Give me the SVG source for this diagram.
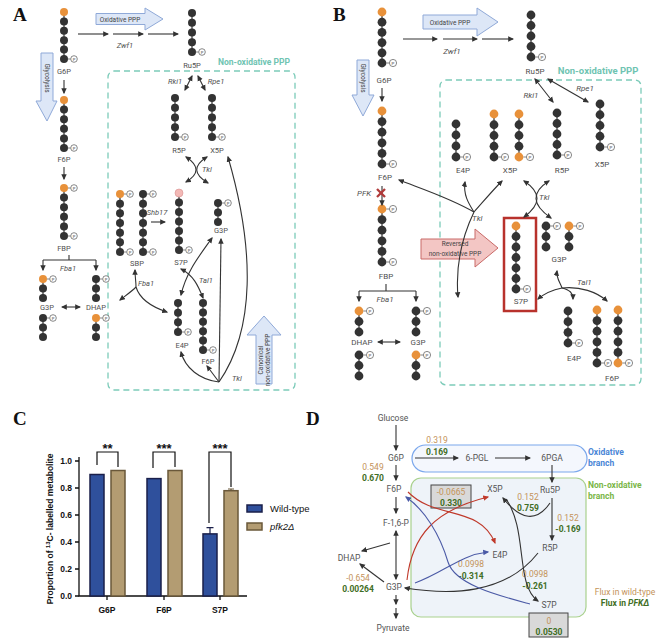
<svg xmlns="http://www.w3.org/2000/svg" width="669" height="642" viewBox="0 0 669 642">
<defs>
<style>
.t{font-family:Roboto,'Liberation Sans',sans-serif;fill:#505050;text-anchor:middle}
.a{font-size:7.5px}
.b{font-size:8px}
.i{font-style:italic}
.s{text-anchor:start}
.ln{fill:none;stroke:#333;stroke-width:1.1}
.ch{stroke:#444;stroke-width:1.3}
.pl{font-family:'Liberation Serif',serif;font-weight:bold;font-size:19px;fill:#111}
.bx{fill:none;stroke:#7ccbb9;stroke-width:1.3;stroke-dasharray:6 4}
.teal{font-family:Roboto,'Liberation Sans',sans-serif;font-weight:bold;fill:#6fc4b2;text-anchor:middle}
.ba{fill:#dde7f7;stroke:#8fa9d8;stroke-width:1}
.bt{font-family:Roboto,'Liberation Sans',sans-serif;font-size:6.5px;fill:#444;text-anchor:middle}
.d{font-family:Roboto,'Liberation Sans',sans-serif;font-size:8.5px;fill:#555;text-anchor:middle}
.tan{fill:#c4935a}
.grn{fill:#3f6e25;font-weight:bold}
.cx{font-family:'Liberation Sans',Arial,sans-serif;font-weight:bold;font-size:8.5px;fill:#111}
.ax{fill:none;stroke:#111;stroke-width:1.3}
.wt{fill:#2f509c;stroke:#1a1f4a;stroke-width:1.5}
.pf{fill:#b39c72;stroke:#6a583a;stroke-width:1.5}
</style>
<marker id="m" viewBox="0 0 10 10" refX="8" refY="5" markerWidth="6" markerHeight="6" markerUnits="userSpaceOnUse" orient="auto-start-reverse"><path d="M0,0.5L10,5L0,9.5z" fill="#333"/></marker>
<marker id="mr" viewBox="0 0 10 10" refX="8" refY="5" markerWidth="6" markerHeight="6" markerUnits="userSpaceOnUse" orient="auto-start-reverse"><path d="M0,0.5L10,5L0,9.5z" fill="#c0392b"/></marker>
<marker id="mb" viewBox="0 0 10 10" refX="8" refY="5" markerWidth="6" markerHeight="6" markerUnits="userSpaceOnUse" orient="auto-start-reverse"><path d="M0,0.5L10,5L0,9.5z" fill="#4b5aa6"/></marker>
<circle id="k" r="4" fill="#333"/>
<circle id="o" r="4" fill="#e8913a"/>
<circle id="K" r="4.4" fill="#333"/>
<circle id="O" r="4.4" fill="#e8913a"/>
<g id="p"><line x1="4" x2="6.7" stroke="#666" stroke-width="0.8"/><circle cx="10" r="3.3" fill="#fff" stroke="#555" stroke-width="0.7"/><text x="10" y="1.5" font-size="4" text-anchor="middle" font-family="'Liberation Sans',sans-serif" fill="#333">P</text></g>
<g id="P"><line x1="4.4" x2="7.4" stroke="#666" stroke-width="0.8"/><circle cx="11" r="3.6" fill="#fff" stroke="#555" stroke-width="0.7"/><text x="11" y="1.6" font-size="4.3" text-anchor="middle" font-family="'Liberation Sans',sans-serif" fill="#333">P</text></g>
</defs>
<rect width="669" height="642" fill="#fff"/>

<!-- ================= PANEL A ================= -->
<text class="pl" x="13" y="21">A</text>
<rect id="a-box" class="bx" x="108" y="71" width="187" height="319" rx="6"/>
<text id="a-nonox" class="teal" x="254" y="65" font-size="8.5">Non-oxidative PPP</text>
<g id="a-oxppp"><path class="ba" d="M96,13.5H145V8L163,19L145,30V24.5H96Z"/><text class="bt" x="120" y="21.5">Oxidative PPP</text></g>
<g id="a-glyco"><path class="ba" d="M41,53H53V101H57L47,121L36,101H41Z"/><text class="bt" transform="translate(44.7,78) rotate(90)">Glycolysis</text></g>
<g id="a-canon"><path class="ba" d="M256,384V335H247L264,316L281,335H272V384Z"/><text class="bt" transform="translate(263,360) rotate(-90)">Canonical</text><text class="bt" transform="translate(270,360) rotate(-90)">non-oxidative PPP</text></g>

<g id="a-g6p"><line class="ch" x1="64" y1="12" x2="64" y2="59"/><use href="#o" x="64" y="12"/><use href="#k" x="64" y="21.4"/><use href="#k" x="64" y="30.8"/><use href="#k" x="64" y="40.2"/><use href="#k" x="64" y="49.6"/><use href="#k" x="64" y="59"/><use href="#p" x="64" y="59"/><text class="t a" x="64" y="74">G6P</text></g>
<g id="a-f6p"><line class="ch" x1="64" y1="100" x2="64" y2="148"/><use href="#o" x="64" y="100"/><use href="#k" x="64" y="109.6"/><use href="#k" x="64" y="119.2"/><use href="#k" x="64" y="128.8"/><use href="#k" x="64" y="138.4"/><use href="#k" x="64" y="148"/><use href="#p" x="64" y="148"/><text class="t a" x="64" y="162">F6P</text></g>
<g id="a-fbp"><line class="ch" x1="64" y1="188" x2="64" y2="236"/><use href="#o" x="64" y="188"/><use href="#p" x="64" y="188"/><use href="#k" x="64" y="197.6"/><use href="#k" x="64" y="207.2"/><use href="#k" x="64" y="216.8"/><use href="#k" x="64" y="226.4"/><use href="#k" x="64" y="236"/><use href="#p" x="64" y="236"/><text class="t a" x="64" y="251">FBP</text><text class="t a i" x="68" y="271">Fba1</text></g>
<g id="a-g3p"><line class="ch" x1="43" y1="279" x2="43" y2="298"/><use href="#o" x="43" y="279"/><use href="#p" x="43" y="279"/><use href="#k" x="43" y="288.5"/><use href="#k" x="43" y="298"/><text class="t a" x="47" y="310">G3P</text><line class="ch" x1="43" y1="318" x2="43" y2="337"/><use href="#k" x="43" y="318"/><use href="#p" x="43" y="318"/><use href="#k" x="43" y="327.5"/><use href="#k" x="43" y="337"/></g>
<g id="a-dhap"><line class="ch" x1="96" y1="279" x2="96" y2="298"/><use href="#k" x="96" y="279"/><use href="#p" x="96" y="279"/><use href="#k" x="96" y="288.5"/><use href="#k" x="96" y="298"/><text class="t a" x="96" y="310">DHAP</text><line class="ch" x1="96" y1="318" x2="96" y2="337"/><use href="#o" x="96" y="318"/><use href="#p" x="96" y="318"/><use href="#k" x="96" y="327.5"/><use href="#k" x="96" y="337"/></g>
<g id="a-ru5p"><line class="ch" x1="192" y1="13" x2="192" y2="52"/><use href="#k" x="192" y="13"/><use href="#k" x="192" y="22.75"/><use href="#k" x="192" y="32.5"/><use href="#k" x="192" y="42.25"/><use href="#k" x="192" y="52"/><use href="#p" x="192" y="52"/><text class="t a" x="192" y="68">Ru5P</text></g>
<g id="a-r5p"><line class="ch" x1="175" y1="98" x2="175" y2="137"/><use href="#k" x="175" y="98"/><use href="#k" x="175" y="107.75"/><use href="#k" x="175" y="117.5"/><use href="#k" x="175" y="127.25"/><use href="#k" x="175" y="137"/><use href="#p" x="175" y="137"/><text class="t a" x="179" y="153">R5P</text></g>
<g id="a-x5p"><line class="ch" x1="212" y1="98" x2="212" y2="137"/><use href="#k" x="212" y="98"/><use href="#k" x="212" y="107.75"/><use href="#k" x="212" y="117.5"/><use href="#k" x="212" y="127.25"/><use href="#k" x="212" y="137"/><use href="#p" x="212" y="137"/><text class="t a" x="217" y="153">X5P</text></g>
<g id="a-s7p"><line class="ch" x1="179" y1="193" x2="179" y2="250"/><circle cx="179" cy="193" r="4" fill="#f3b9b6" stroke="#d89090" stroke-width="0.6"/><use href="#k" x="179" y="202.5"/><use href="#k" x="179" y="212"/><use href="#k" x="179" y="221.5"/><use href="#k" x="179" y="231"/><use href="#k" x="179" y="240.5"/><use href="#k" x="179" y="250"/><use href="#p" x="179" y="250"/><text class="t a" x="181" y="265">S7P</text></g>
<g id="a-g3p2"><line class="ch" x1="218" y1="203" x2="218" y2="222"/><use href="#k" x="218" y="203"/><use href="#p" x="218" y="203"/><use href="#k" x="218" y="212.5"/><use href="#k" x="218" y="222"/><text class="t a" x="221" y="233">G3P</text></g>
<g id="a-sbp"><line class="ch" x1="120" y1="194" x2="120" y2="252"/><use href="#o" x="120" y="194"/><use href="#p" x="120" y="194"/><use href="#k" x="120" y="203.7"/><use href="#k" x="120" y="213.3"/><use href="#k" x="120" y="223"/><use href="#k" x="120" y="232.7"/><use href="#k" x="120" y="242.3"/><use href="#k" x="120" y="252"/><use href="#p" x="120" y="252"/><line class="ch" x1="143" y1="194" x2="143" y2="252"/><use href="#k" x="143" y="194"/><use href="#p" x="143" y="194"/><use href="#k" x="143" y="203.7"/><use href="#k" x="143" y="213.3"/><use href="#k" x="143" y="223"/><use href="#k" x="143" y="232.7"/><use href="#k" x="143" y="242.3"/><use href="#k" x="143" y="252"/><use href="#p" x="143" y="252"/><text class="t a" x="137" y="266">SBP</text></g>
<g id="a-e4p"><line class="ch" x1="178" y1="303" x2="178" y2="332"/><use href="#k" x="178" y="303"/><use href="#k" x="178" y="312.7"/><use href="#k" x="178" y="322.3"/><use href="#k" x="178" y="332"/><use href="#p" x="178" y="332"/><text class="t a" x="182" y="348">E4P</text></g>
<g id="a-f6p2"><line class="ch" x1="203" y1="303" x2="203" y2="350"/><use href="#k" x="203" y="303"/><use href="#k" x="203" y="312.4"/><use href="#k" x="203" y="321.8"/><use href="#k" x="203" y="331.2"/><use href="#k" x="203" y="340.6"/><use href="#k" x="203" y="350"/><use href="#p" x="203" y="350"/><text class="t a" x="208" y="364">F6P</text></g>

<g id="a-labels">
<text class="t a i" x="125" y="48">Zwf1</text>
<text class="t a i" x="175" y="84">Rki1</text>
<text class="t a i" x="216" y="84">Rpe1</text>
<text class="t a i s" x="202" y="172">Tkl</text>
<text class="t a i" x="157" y="215">Shb17</text>
<text class="t a i s" x="138" y="286">Fba1</text>
<text class="t a i s" x="199" y="283">Tal1</text>
<text class="t a i s" x="232" y="381">Tkl</text>
</g>

<g id="a-connectors" class="ln">
<path d="M78,34H108" marker-end="url(#m)"/>
<path d="M113,34H143" marker-end="url(#m)"/>
<path d="M148,34H178" marker-end="url(#m)"/>
<path d="M64,80V93" marker-end="url(#m)"/>
<path d="M64,167V179" marker-end="url(#m)"/>
<path d="M69,255V260M43,260H96"/>
<path d="M43,260V270" marker-end="url(#m)"/>
<path d="M96,260V270" marker-end="url(#m)"/>
<path d="M62,307H80" marker-start="url(#m)" marker-end="url(#m)"/>
<path d="M192,76L185,90" marker-start="url(#m)" marker-end="url(#m)"/>
<path d="M198,76L205,90" marker-start="url(#m)" marker-end="url(#m)"/>
<path d="M186,157Q206,170 186,182" marker-start="url(#m)" marker-end="url(#m)"/>
<path d="M207,157Q186,170 208,183" marker-start="url(#m)" marker-end="url(#m)"/>
<path d="M151,222H165" marker-end="url(#m)"/>
<path d="M136,287C136,281 135,277 135,270" marker-end="url(#m)"/>
<path d="M136,287C131,292 125,296 120,300" marker-end="url(#m)"/>
<path d="M136,287C140,300 155,308 167,312" marker-end="url(#m)"/>
<path d="M212,238C200,255 186,272 181,295" marker-start="url(#m)" marker-end="url(#m)"/>
<path d="M181,269C193,275 198,285 203,298" marker-start="url(#m)" marker-end="url(#m)"/>
<path d="M219,382L221,239" marker-end="url(#m)"/>
<path d="M219,382C255,330 255,250 228,157" marker-end="url(#m)"/>
<path d="M219,382C200,380 185,368 181,352" marker-end="url(#m)"/>
<path d="M219,382L207,366" marker-end="url(#m)"/>
</g>

<!-- ================= PANEL B ================= -->
<text class="pl" x="333" y="21">B</text>
<rect id="b-box" class="bx" x="440" y="80" width="201" height="305" rx="6"/>
<text id="b-nonox" class="teal" x="598" y="74" font-size="9.5">Non-oxidative PPP</text>
<g id="b-oxppp"><path class="ba" d="M423,15H477V8L498,22L477,36V29H423Z"/><text class="bt" x="450" y="24.5" font-size="7">Oxidative PPP</text></g>
<g id="b-glyco"><path class="ba" d="M357,60H369V95H374L363,116L352,95H357Z"/><text class="bt" transform="translate(360.7,78) rotate(90)">Glycolysis</text></g>
<g id="b-rev"><path d="M421,239H475V229L498,248L475,267V259H421Z" fill="#f3c6c4" stroke="#c96a68" stroke-width="1"/><text class="bt" x="455" y="246" font-size="7">Reversed</text><text class="bt" x="455" y="256" font-size="7">non-oxidative PPP</text></g>

<g id="b-g6p"><line class="ch" x1="382" y1="12" x2="382" y2="63"/><use href="#O" x="382" y="12"/><use href="#K" x="382" y="22.2"/><use href="#K" x="382" y="32.4"/><use href="#K" x="382" y="42.6"/><use href="#K" x="382" y="52.8"/><use href="#K" x="382" y="63"/><use href="#P" x="382" y="63"/><text class="t b" x="384" y="83">G6P</text></g>
<g id="b-f6p"><line class="ch" x1="382" y1="111" x2="382" y2="164"/><use href="#O" x="382" y="111"/><use href="#K" x="382" y="121.6"/><use href="#K" x="382" y="132.2"/><use href="#K" x="382" y="142.8"/><use href="#K" x="382" y="153.4"/><use href="#K" x="382" y="164"/><use href="#P" x="382" y="164"/><text class="t b" x="385" y="180">F6P</text></g>
<g id="b-fbp"><line class="ch" x1="382" y1="209" x2="382" y2="262"/><use href="#O" x="382" y="209"/><use href="#P" x="382" y="209"/><use href="#K" x="382" y="219.6"/><use href="#K" x="382" y="230.2"/><use href="#K" x="382" y="240.8"/><use href="#K" x="382" y="251.4"/><use href="#K" x="382" y="262"/><use href="#P" x="382" y="262"/><text class="t b" x="386" y="279">FBP</text><text class="t b i" x="385" y="302">Fba1</text></g>
<g id="b-dhap"><line class="ch" x1="359" y1="311" x2="359" y2="332"/><use href="#O" x="359" y="311"/><use href="#P" x="359" y="311"/><use href="#K" x="359" y="321.5"/><use href="#K" x="359" y="332"/><text class="t b" x="362" y="345">DHAP</text><line class="ch" x1="359" y1="355" x2="359" y2="376"/><use href="#K" x="359" y="355"/><use href="#P" x="359" y="355"/><use href="#K" x="359" y="365.5"/><use href="#K" x="359" y="376"/></g>
<g id="b-g3p"><line class="ch" x1="416" y1="311" x2="416" y2="332"/><use href="#K" x="416" y="311"/><use href="#P" x="416" y="311"/><use href="#K" x="416" y="321.5"/><use href="#K" x="416" y="332"/><text class="t b" x="418" y="345">G3P</text><line class="ch" x1="416" y1="355" x2="416" y2="376"/><use href="#O" x="416" y="355"/><use href="#P" x="416" y="355"/><use href="#K" x="416" y="365.5"/><use href="#K" x="416" y="376"/></g>
<g id="b-ru5p"><line class="ch" x1="531" y1="15" x2="531" y2="57"/><use href="#K" x="531" y="15"/><use href="#K" x="531" y="25.5"/><use href="#K" x="531" y="36"/><use href="#K" x="531" y="46.5"/><use href="#K" x="531" y="57"/><use href="#P" x="531" y="57"/><text class="t b" x="535" y="74">Ru5P</text></g>
<g id="b-e4p"><line class="ch" x1="456" y1="124" x2="456" y2="157"/><use href="#K" x="456" y="124"/><use href="#K" x="456" y="135"/><use href="#K" x="456" y="146"/><use href="#K" x="456" y="157"/><use href="#P" x="456" y="157"/><text class="t b" x="463" y="173">E4P</text></g>
<g id="b-x5p"><line class="ch" x1="494" y1="114" x2="494" y2="157"/><use href="#O" x="494" y="114"/><use href="#K" x="494" y="124.75"/><use href="#K" x="494" y="135.5"/><use href="#K" x="494" y="146.25"/><use href="#K" x="494" y="157"/><use href="#P" x="494" y="157"/><line class="ch" x1="519" y1="114" x2="519" y2="157"/><use href="#O" x="519" y="114"/><use href="#K" x="519" y="124.75"/><use href="#K" x="519" y="135.5"/><use href="#K" x="519" y="146.25"/><use href="#O" x="519" y="157"/><use href="#P" x="519" y="157"/><text class="t b" x="510" y="173">X5P</text></g>
<g id="b-r5p"><line class="ch" x1="557" y1="113" x2="557" y2="155"/><use href="#K" x="557" y="113"/><use href="#K" x="557" y="123.5"/><use href="#K" x="557" y="134"/><use href="#K" x="557" y="144.5"/><use href="#K" x="557" y="155"/><use href="#P" x="557" y="155"/><text class="t b" x="562" y="173">R5P</text></g>
<g id="b-x5p2"><line class="ch" x1="600" y1="104" x2="600" y2="147"/><use href="#K" x="600" y="104"/><use href="#K" x="600" y="114.75"/><use href="#K" x="600" y="125.5"/><use href="#K" x="600" y="136.25"/><use href="#K" x="600" y="147"/><use href="#P" x="600" y="147"/><text class="t b" x="602" y="167">X5P</text></g>
<g id="b-s7p"><rect x="504" y="218" width="32" height="93" fill="none" stroke="#b8322c" stroke-width="2.5"/><line class="ch" x1="516" y1="226" x2="516" y2="289"/><use href="#O" x="516" y="226"/><use href="#K" x="516" y="236.5"/><use href="#K" x="516" y="247"/><use href="#K" x="516" y="257.5"/><use href="#K" x="516" y="268"/><use href="#K" x="516" y="278.5"/><use href="#K" x="516" y="289"/><use href="#P" x="516" y="289"/><text class="t b" x="521" y="304">S7P</text></g>
<g id="b-g3p2"><line class="ch" x1="546" y1="226" x2="546" y2="247"/><use href="#K" x="546" y="226"/><use href="#P" x="546" y="226"/><use href="#K" x="546" y="236.5"/><use href="#K" x="546" y="247"/><line class="ch" x1="569" y1="226" x2="569" y2="247"/><use href="#O" x="569" y="226"/><use href="#P" x="569" y="226"/><use href="#K" x="569" y="236.5"/><use href="#K" x="569" y="247"/><text class="t b" x="559" y="262">G3P</text></g>
<g id="b-e4p2"><line class="ch" x1="568" y1="311" x2="568" y2="343"/><use href="#K" x="568" y="311"/><use href="#K" x="568" y="321.7"/><use href="#K" x="568" y="332.3"/><use href="#K" x="568" y="343"/><use href="#P" x="568" y="343"/><text class="t b" x="574" y="361">E4P</text></g>
<g id="b-f6p2"><line class="ch" x1="597" y1="310" x2="597" y2="363"/><use href="#O" x="597" y="310"/><use href="#K" x="597" y="320.6"/><use href="#K" x="597" y="331.2"/><use href="#K" x="597" y="341.8"/><use href="#K" x="597" y="352.4"/><use href="#K" x="597" y="363"/><use href="#P" x="597" y="363"/><line class="ch" x1="618" y1="310" x2="618" y2="363"/><use href="#O" x="618" y="310"/><use href="#K" x="618" y="320.6"/><use href="#K" x="618" y="331.2"/><use href="#K" x="618" y="341.8"/><use href="#K" x="618" y="352.4"/><use href="#O" x="618" y="363"/><use href="#P" x="618" y="363"/><text class="t b" x="612" y="381">F6P</text></g>

<g id="b-labels">
<text class="t b i" x="452" y="54">Zwf1</text>
<text class="t b i s" x="357" y="196">PFK</text>
<text class="t b i" x="531" y="98">Rki1</text>
<text class="t b i" x="585" y="91">Rpe1</text>
<text class="t b i s" x="539" y="200">Tkl</text>
<text class="t b i s" x="472" y="221">Tkl</text>
<text class="t b i s" x="577" y="285">Tal1</text>
</g>

<g id="b-connectors" class="ln">
<path d="M403,39H437" marker-end="url(#m)"/>
<path d="M443,39H477" marker-end="url(#m)"/>
<path d="M482,39H513" marker-end="url(#m)"/>
<path d="M382,88V101" marker-end="url(#m)"/>
<path d="M382,186V205" marker-end="url(#m)"/>
<path d="M386,284V291M359,291H416"/>
<path d="M359,291V301" marker-end="url(#m)"/>
<path d="M416,291V301" marker-end="url(#m)"/>
<path d="M378,342H400" marker-start="url(#m)" marker-end="url(#m)"/>
<path d="M535,79L553,102" marker-start="url(#m)" marker-end="url(#m)"/>
<path d="M548,79L588,102" marker-start="url(#m)" marker-end="url(#m)"/>
<path d="M524,181Q550,198 524,217" marker-start="url(#m)" marker-end="url(#m)"/>
<path d="M549,181Q522,198 551,218" marker-start="url(#m)" marker-end="url(#m)"/>
<path d="M474,212C450,198 425,190 399,180" marker-end="url(#m)"/>
<path d="M474,212C469,204 463,195 465,182" marker-end="url(#m)"/>
<path d="M474,212C483,202 492,191 502,181" marker-end="url(#m)"/>
<path d="M474,212C463,235 455,262 458,297" marker-end="url(#m)"/>
<path d="M562,288C560,282 556,278 557,271" marker-end="url(#m)"/>
<path d="M562,288C552,290 545,293 538,299" marker-end="url(#m)"/>
<path d="M562,288C570,290 573,293 573,299" marker-end="url(#m)"/>
<path d="M562,288C580,286 597,292 607,301" marker-end="url(#m)"/>
</g>
<g id="b-pfk-x" stroke="#b03a3a" stroke-width="2.3"><line x1="377" y1="189" x2="385" y2="197"/><line x1="385" y1="189" x2="377" y2="197"/></g>

<!-- ================= PANEL C ================= -->
<text class="pl" x="13" y="425">C</text>
<g id="c-axes">
<path class="ax" d="M79,457V596H247"/>
<path class="ax" d="M75,596H79M75,569H79M75,542H79M75,515H79M75,488H79M75,461H79M107,596V600M164,596V600M220,596V600"/>
<text class="cx" x="72" y="599" text-anchor="end">0.0</text>
<text class="cx" x="72" y="572" text-anchor="end">0.2</text>
<text class="cx" x="72" y="545" text-anchor="end">0.4</text>
<text class="cx" x="72" y="518" text-anchor="end">0.6</text>
<text class="cx" x="72" y="491" text-anchor="end">0.8</text>
<text class="cx" x="72" y="464" text-anchor="end">1.0</text>
<text class="cx" x="107" y="613" text-anchor="middle">G6P</text>
<text class="cx" x="164" y="613" text-anchor="middle">F6P</text>
<text class="cx" x="220" y="613" text-anchor="middle">S7P</text>
<text class="cx" transform="translate(53,529) rotate(-90)" text-anchor="middle">Proportion of <tspan dy="-3" font-size="6">13</tspan><tspan dy="3">C- labelled metabolite</tspan></text>
</g>
<g id="c-bars">
<rect class="wt" x="90" y="474.5" width="14" height="121.5"/>
<rect class="pf" x="111" y="470.5" width="14" height="125.5"/>
<rect class="wt" x="147" y="478.6" width="14" height="117.4"/>
<rect class="pf" x="168" y="470.5" width="14" height="125.5"/>
<rect class="wt" x="203" y="533.9" width="14" height="62.1"/>
<rect class="pf" x="224" y="490.7" width="14" height="105.3"/>
<path d="M210,533.9V527.6M206.5,527.6H213.5" stroke="#1a1f4a" stroke-width="1.2"/>
<path d="M231,490.7V489M228,489H234" stroke="#6a583a" stroke-width="1.2"/>
</g>
<g id="c-sig" fill="none" stroke="#111" stroke-width="1.2">
<path d="M97,465V452H118V467"/>
<path d="M153,468V452H175V467"/>
<path d="M209,523V452H231V487"/>
</g>
<g font-family="'Liberation Sans',Arial,sans-serif" font-weight="bold" font-size="13" fill="#111" text-anchor="middle">
<text x="107.5" y="453">**</text>
<text x="164" y="453">***</text>
<text x="220" y="453">***</text>
</g>
<g id="c-legend" font-family="'Liberation Sans',Arial,sans-serif" font-size="9.5" fill="#111">
<rect class="wt" x="247" y="505" width="15" height="7"/>
<text x="270" y="512">Wild-type</text>
<rect class="pf" x="247" y="523" width="15" height="7"/>
<text x="270" y="530" font-style="italic">pfk2Δ</text>
</g>

<!-- ================= PANEL D ================= -->
<text class="pl" x="306" y="425">D</text>
<g id="d-oxbranch"><rect x="412" y="445" width="175" height="27" rx="13.5" fill="#f4f7fd" stroke="#7aa7ec" stroke-width="1.2"/></g>
<g id="d-nonoxbranch"><rect x="411" y="478" width="175" height="139" rx="10" fill="#eef3f9" stroke="#a9d18e" stroke-width="1.2"/></g>
<g id="d-titles" font-family="Roboto,'Liberation Sans',sans-serif" font-weight="bold" font-size="8.5">
<text x="588" y="455" fill="#4a86d6">Oxidative</text>
<text x="588" y="466" fill="#4a86d6">branch</text>
<text x="588" y="488" fill="#7ab648">Non-oxidative</text>
<text x="588" y="499" fill="#7ab648">branch</text>
</g>
<g id="d-nodes">
<text class="d" x="393" y="421">Glucose</text>
<text class="d" x="396" y="461">G6P</text>
<text class="d" x="477" y="461">6-PGL</text>
<text class="d" x="552" y="461">6PGA</text>
<text class="d" x="550" y="493">Ru5P</text>
<text class="d" x="394" y="492">F6P</text>
<text class="d" x="396" y="526">F-1,6-P</text>
<text class="d" x="349" y="561">DHAP</text>
<text class="d" x="394" y="590">G3P</text>
<text class="d" x="393" y="631">Pyruvate</text>
<text class="d" x="495" y="492">X5P</text>
<text class="d" x="500" y="558">E4P</text>
<text class="d" x="550" y="551">R5P</text>
<text class="d" x="549" y="608">S7P</text>
</g>
<g id="d-boxes">
<rect x="431" y="485" width="40" height="23" fill="#d9d9d9" stroke="#444" stroke-width="1"/>
<rect x="529" y="613" width="39" height="24" fill="#d9d9d9" stroke="#444" stroke-width="1"/>
</g>
<g id="d-values">
<text class="d tan" x="437" y="443">0.319</text>
<text class="d grn" x="437" y="455">0.169</text>
<text class="d tan" x="373" y="470">0.549</text>
<text class="d grn" x="373" y="481">0.670</text>
<text class="d tan" x="451" y="495">-0.0665</text>
<text class="d grn" x="451" y="506">0.330</text>
<text class="d tan" x="528" y="500">0.152</text>
<text class="d grn" x="528" y="511">0.759</text>
<text class="d tan" x="568" y="521">0.152</text>
<text class="d grn" x="568" y="532">-0.169</text>
<text class="d tan" x="358" y="581">-0.654</text>
<text class="d grn" x="358" y="592">0.00264</text>
<text class="d tan" x="471" y="567">0.0998</text>
<text class="d grn" x="471" y="579">-0.314</text>
<text class="d tan" x="535" y="577">0.0998</text>
<text class="d grn" x="535" y="589">-0.261</text>
<text class="d tan" x="549" y="624">0</text>
<text class="d grn" x="549" y="635">0.0530</text>
<text class="d tan" x="625" y="595">Flux in wild-type</text>
<text class="d grn" x="625" y="606">Flux in <tspan font-style="italic">PFKΔ</tspan></text>
</g>
<g id="d-connectors" class="ln">
<path d="M396,425V450" marker-end="url(#m)"/>
<path d="M415,458H458" marker-end="url(#m)"/>
<path d="M495,458H530" marker-end="url(#m)"/>
<path d="M552,465V482" marker-end="url(#m)"/>
<path d="M396,465V480" marker-end="url(#m)"/>
<path d="M396,497V513" marker-end="url(#m)"/>
<path d="M396,531V579" marker-start="url(#m)" marker-end="url(#m)"/>
<path d="M390,543L362,551" marker-end="url(#m)"/>
<path d="M384,582L360,564" marker-end="url(#m)"/>
<path d="M396,595V604" marker-end="url(#m)"/>
<path d="M396,608V618" marker-end="url(#m)"/>
<path d="M552,498V540" marker-end="url(#m)"/>
<path d="M550,503Q530,532 503,498" marker-end="url(#m)"/>
<path d="M506,499C528,530 515,585 538,601" marker-end="url(#m)"/>
<path d="M538,553C505,595 450,595 405,588" marker-end="url(#m)"/>
<path d="M408,492C435,520 480,505 495,543" stroke="#c0392b" marker-end="url(#mr)"/>
<path d="M407,580C412,535 435,510 488,497" stroke="#c0392b" marker-end="url(#mr)"/>
<path d="M415,583C445,572 460,555 488,552" stroke="#4b5aa6" marker-end="url(#mb)"/>
<path d="M530,604C500,596 455,585 448,562C440,535 425,510 406,497" stroke="#4b5aa6" marker-end="url(#mb)"/>
</g>
</svg>
